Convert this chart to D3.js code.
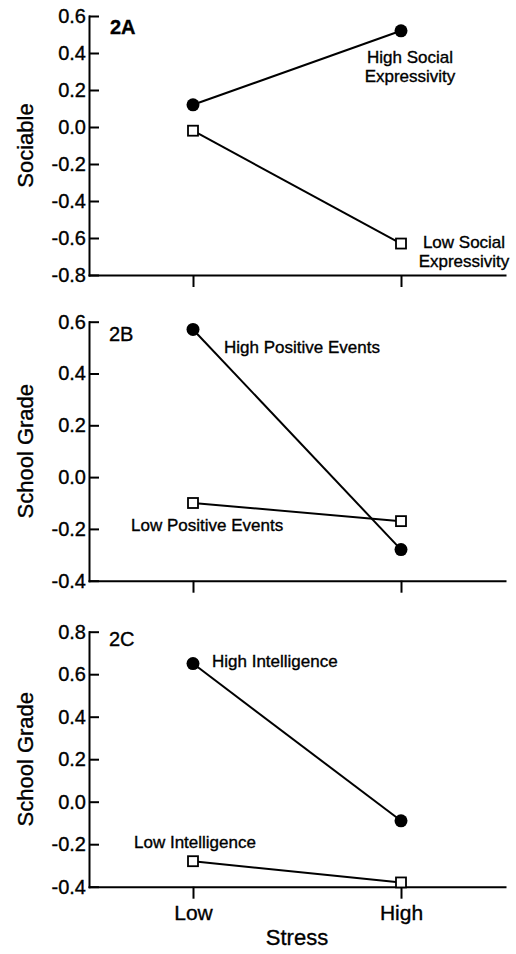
<!DOCTYPE html>
<html>
<head>
<meta charset="utf-8">
<script src="https://cdn.jsdelivr.net/npm/d3@7"></script>
<style>
  body { margin: 0; background: #fff; }
  svg text { font-family: "Liberation Sans", Arial, Helvetica, sans-serif; fill: #000; stroke: #000; stroke-width: 0.35px; }
</style>
</head>
<body>
<div id="chart"></div>
<script>
// values
var stress = ["Low", "High"];
var panelIds = ["2A", "2B", "2C"];
var yTitles = ["Sociable", "School Grade", "School Grade"];
var yTicksA = [-0.8, -0.6, -0.4, -0.2, 0.0, 0.2, 0.4, 0.6];
var yTicksB = [-0.4, -0.2, 0.0, 0.2, 0.4, 0.6];
var yTicksC = [-0.4, -0.2, 0.0, 0.2, 0.4, 0.6, 0.8];
var highA = [0.12, 0.52];
var lowA = [-0.02, -0.63];
var highB = [0.57, -0.28];
var lowB = [-0.10, -0.17];
var highC = [0.65, -0.09];
var lowC = [-0.28, -0.38];

var width = 516;
var height = 954;

var svg = d3.select('#chart')
  .append('svg')
  .attr('width', width)
  .attr('height', height);

var left = 89, right = 505;
var x = d3.scalePoint().domain(stress).range([left, right]).padding(0.5);

// panel layout (pixel boxes), kept apart from the data
var panels = [
  { id: panelIds[0], title: yTitles[0], ticks: yTicksA, high: highA, low: lowA, top: 16, bottom: 275, labels: false },
  { id: panelIds[1], title: yTitles[1], ticks: yTicksB, high: highB, low: lowB, top: 321.7, bottom: 580.7, labels: false },
  { id: panelIds[2], title: yTitles[2], ticks: yTicksC, high: highC, low: lowC, top: 631.7, bottom: 886.7, labels: true }
];

var line = d3.line().x(function(d) { return x(d.s); }).y(function(d) { return d.y; });

panels.forEach(function(p) {
  var y = d3.scaleLinear()
    .domain(d3.extent(p.ticks))
    .range([p.bottom, p.top]);

  var g = svg.append('g');

  var yAxis = d3.axisLeft(y)
    .tickValues(p.ticks)
    .tickSizeInner(-10)
    .tickSizeOuter(0)
    .tickPadding(3)
    .tickFormat(function(d) { return d.toFixed(1); });

  var ya = g.append('g')
    .attr('transform', 'translate(' + left + ',0)')
    .call(yAxis);
  ya.selectAll('text').style('font-size', '20px');

  var xAxis = d3.axisBottom(x)
    .tickSizeInner(12)
    .tickSizeOuter(0)
    .tickPadding(6)
    .tickFormat(p.labels ? null : '');

  var xa = g.append('g')
    .attr('transform', 'translate(0,' + p.bottom + ')')
    .call(xAxis);
  xa.selectAll('text').style('font-size', '21px');

  g.selectAll('.domain, .tick line')
    .attr('stroke', '#000')
    .attr('stroke-width', 2);
  g.selectAll('.domain').attr('stroke-linecap', 'square');
  g.selectAll('.tick text').attr('fill', '#000');
  ya.attr('font-family', null).attr('font-size', null);
  xa.attr('font-family', null).attr('font-size', null);

  // y title
  g.append('text')
    .attr('transform', 'translate(33,' + ((p.top + p.bottom) / 2) + ') rotate(-90)')
    .attr('text-anchor', 'middle')
    .style('font-size', '22px')
    .text(p.title);

  var hi = stress.map(function(s, i) { return { s: s, y: y(p.high[i]) }; });
  var lo = stress.map(function(s, i) { return { s: s, y: y(p.low[i]) }; });

  g.append('path').attr('d', line(hi)).attr('fill', 'none').attr('stroke', '#000').attr('stroke-width', 2);
  g.append('path').attr('d', line(lo)).attr('fill', 'none').attr('stroke', '#000').attr('stroke-width', 2);

  g.selectAll('.hi').data(hi).enter().append('circle')
    .attr('cx', function(d) { return x(d.s); })
    .attr('cy', function(d) { return d.y; })
    .attr('r', 6.5)
    .attr('fill', '#000');

  var sq = 10;
  g.selectAll('.lo').data(lo).enter().append('rect')
    .attr('x', function(d) { return x(d.s) - sq / 2; })
    .attr('y', function(d) { return d.y - sq / 2; })
    .attr('width', sq)
    .attr('height', sq)
    .attr('fill', '#fff')
    .attr('stroke', '#000')
    .attr('stroke-width', 1.8);
});

// panel tags
svg.append('text').attr('x', 110).attr('y', 34).style('font-size', '20px').style('font-weight', 'bold').text(panelIds[0]);
svg.append('text').attr('x', 109).attr('y', 341).style('font-size', '20px').text(panelIds[1]);
svg.append('text').attr('x', 109).attr('y', 646).style('font-size', '20px').text(panelIds[2]);

// series annotations
function note(xp, yp, lines, anchor) {
  var t = svg.append('text')
    .attr('x', xp).attr('y', yp)
    .attr('text-anchor', anchor || 'start')
    .style('font-size', '17px');
  lines.forEach(function(s, i) {
    t.append('tspan').attr('x', xp).attr('dy', i ? 19 : 0).text(s);
  });
}
note(410, 63, ["High Social", "Expressivity"], 'middle');
note(464, 248, ["Low Social", "Expressivity"], 'middle');
note(224, 353, ["High Positive Events"]);
note(131, 531, ["Low Positive Events"]);
note(212, 667, ["High Intelligence"]);
note(134, 848, ["Low Intelligence"]);

// x title
svg.append('text')
  .attr('x', (left + right) / 2)
  .attr('y', 945)
  .attr('text-anchor', 'middle')
  .style('font-size', '22px')
  .text('Stress');
</script>
</body>
</html>
